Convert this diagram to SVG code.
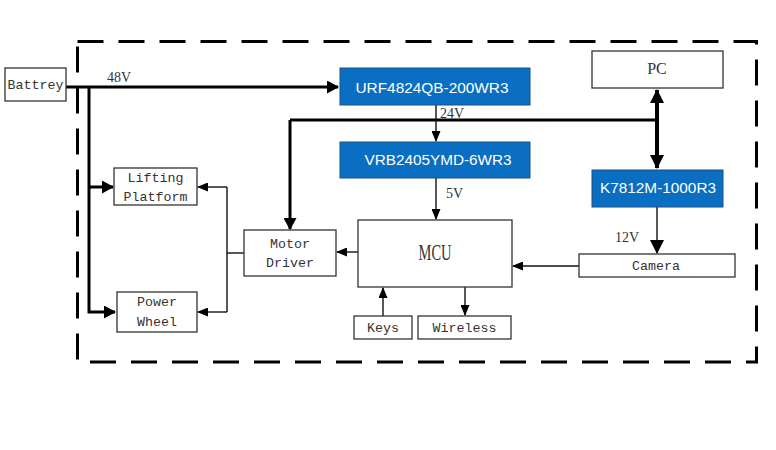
<svg xmlns="http://www.w3.org/2000/svg" width="776" height="450" viewBox="0 0 776 450">
<style>
.box{fill:#fff;stroke:#333;stroke-width:1.3}
.blue{fill:#0A6FC2;stroke:#1d4f80;stroke-width:1}
.lbl{font-family:"Liberation Mono",monospace;font-size:13.3px;fill:#333;text-anchor:middle}
.bt{font-family:"Liberation Sans",Arial,sans-serif;font-size:15px;fill:#fff;text-anchor:middle}
.v{font-family:"Liberation Serif","Times New Roman",serif;font-size:14px;fill:#333}
.thick{stroke:#000;stroke-width:3;fill:none}
.thin{stroke:#111;stroke-width:1.4;fill:none}
</style>
<defs>
<marker id="ah" markerUnits="userSpaceOnUse" markerWidth="12" markerHeight="13" refX="11" refY="6.5" orient="auto"><path d="M0,0 L12,6.5 L0,13 z" fill="#000"/></marker>
<marker id="ahs" markerUnits="userSpaceOnUse" markerWidth="14" markerHeight="14" refX="13" refY="7" orient="auto-start-reverse"><path d="M0,0 L14,7 L0,14 z" fill="#000"/></marker>
<marker id="at" markerUnits="userSpaceOnUse" markerWidth="11" markerHeight="9" refX="10" refY="4.5" orient="auto"><path d="M0,0 L11,4.5 L0,9 z" fill="#000"/></marker>
</defs>
<rect x="0" y="0" width="776" height="450" fill="#fff"/>
<rect id="border" x="77.5" y="41.5" width="679" height="320.5" fill="none" stroke="#000" stroke-width="3" stroke-dasharray="26 15"/>

<g id="connectors">
<path class="thick" d="M66,87 H338" marker-end="url(#ah)"/>
<path class="thick" d="M89,87 V312 H115" marker-end="url(#ah)"/>
<path class="thick" d="M89,187 H113" marker-end="url(#ah)"/>
<path class="thick" d="M290,120 H657"/>
<path class="thick" d="M290,120 V229" marker-end="url(#ah)"/>
<path stroke="#000" stroke-width="4" fill="none" d="M657,90 V168" marker-start="url(#ahs)" marker-end="url(#ahs)"/>
<path class="thin" d="M657,207 V253" marker-end="url(#ahs)"/>
<path class="thin" d="M436,105 V141" marker-end="url(#at)"/>
<path class="thin" d="M436,178 V219" marker-end="url(#at)"/>
<path class="thin" d="M579,266 H513" marker-end="url(#at)"/>
<path class="thin" d="M358,252 H337" marker-end="url(#at)"/>
<path class="thin" d="M244,253 H227"/>
<path class="thin" d="M227,187 V312"/>
<path class="thin" d="M227,187 H198" marker-end="url(#at)"/>
<path class="thin" d="M227,312 H198" marker-end="url(#at)"/>
<path class="thin" d="M383,316 V288" marker-end="url(#at)"/>
<path class="thin" d="M465,287 V315" marker-end="url(#at)"/>
<text class="v" x="107" y="82">48V</text>
<text class="v" x="440" y="118">24V</text>
<text class="v" x="446" y="198">5V</text>
<text class="v" x="615" y="242">12V</text>
</g>

<g id="battrey"><rect class="box" x="5" y="68" width="61" height="33"/><text class="lbl" x="35.5" y="89">Battrey</text></g>
<g id="urf"><rect class="blue" x="340" y="68" width="190" height="37"/><text class="bt" x="432" y="93" textLength="153" lengthAdjust="spacingAndGlyphs">URF4824QB-200WR3</text></g>
<g id="vrb"><rect class="blue" x="340" y="142" width="190" height="36"/><text class="bt" x="438" y="165" textLength="147" lengthAdjust="spacingAndGlyphs">VRB2405YMD-6WR3</text></g>
<g id="pc"><rect class="box" x="592" y="51" width="131" height="37"/><text x="657" y="74" font-family="Liberation Serif,serif" font-size="16" fill="#333" text-anchor="middle">PC</text></g>
<g id="k7812"><rect class="blue" x="592" y="170" width="131" height="37"/><text class="bt" x="658" y="193" textLength="116" lengthAdjust="spacingAndGlyphs">K7812M-1000R3</text></g>
<g id="lifting"><rect class="box" x="114" y="168" width="83" height="37"/><text class="lbl" x="155.5" y="182">Lifting</text><text class="lbl" x="155.5" y="201">Platform</text></g>
<g id="powerwheel"><rect class="box" x="117" y="292" width="80" height="40"/><text class="lbl" x="157" y="306">Power</text><text class="lbl" x="157" y="326">Wheel</text></g>
<g id="motordriver"><rect class="box" x="244" y="230" width="92" height="46"/><text class="lbl" x="290" y="248">Motor</text><text class="lbl" x="290" y="267">Driver</text></g>
<g id="mcu"><rect class="box" x="358" y="220" width="154" height="67"/><text x="435" y="260" font-family="Liberation Serif,serif" font-size="23" fill="#333" text-anchor="middle" textLength="33" lengthAdjust="spacingAndGlyphs">MCU</text></g>
<g id="camera"><rect class="box" x="579" y="254" width="156" height="23"/><text class="lbl" x="656" y="270">Camera</text></g>
<g id="keys"><rect class="box" x="354" y="316" width="58" height="23"/><text class="lbl" x="383" y="332">Keys</text></g>
<g id="wireless"><rect class="box" x="418" y="316" width="93" height="23"/><text class="lbl" x="464.5" y="332">Wireless</text></g>
</svg>
